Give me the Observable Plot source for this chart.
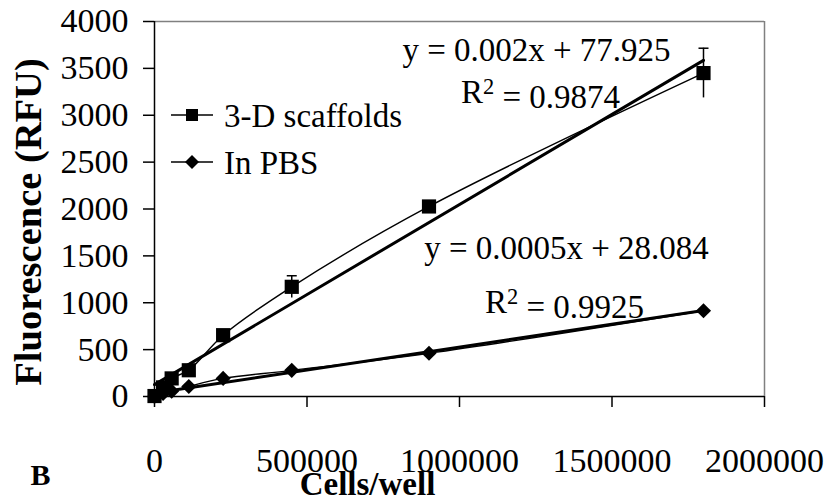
<!DOCTYPE html>
<html>
<head>
<meta charset="utf-8">
<script src="https://cdn.jsdelivr.net/npm/d3@7"></script>
<script src="https://cdn.jsdelivr.net/npm/@observablehq/plot@0.6"></script>
<style>
  html, body { margin: 0; padding: 0; background: white; }
  #chart { width: 825px; height: 502px; }
</style>
</head>
<body>
<div id="chart"></div>
<script>
// ---- data ----
const cells = [0, 28125, 56250, 112500, 225000, 450000, 900000, 1800000];
const scaffolds = [5, 97, 193, 280, 654, 1170, 2027, 3450];
const scaffoldErr = [0, 0, 0, 0, 0, 118, 0, 265];
const pbs = [0, 32, 57, 107, 193, 279, 461, 915];
const seriesNames = ["3-D scaffolds", "In PBS"];
const xTicks = [0, 500000, 1000000, 1500000, 2000000];
const yTicks = [0, 500, 1000, 1500, 2000, 2500, 3000, 3500, 4000];
const eq1 = ["y = 0.002x + 77.925", "R2 = 0.9874"];
const eq2 = ["y = 0.0005x + 28.084", "R2 = 0.9925"];

const scaffoldData = cells.map((x, i) => ({x, y: scaffolds[i], err: scaffoldErr[i]}));
const pbsData = cells.map((x, i) => ({x, y: pbs[i]}));
const errData = scaffoldData.filter(d => d.err > 0);

const capSymbol = { draw(ctx, size) { const w = 5; ctx.moveTo(-w, 0); ctx.lineTo(w, 0); } };

const FONT = "Liberation Serif, Times New Roman, serif";

const chart = Plot.plot({
  width: 825,
  height: 502,
  marginLeft: 154,
  marginRight: 61,
  marginTop: 21,
  marginBottom: 106,
  style: { fontFamily: FONT, fontSize: "33px", color: "black", background: "white" },
  x: { domain: [0, 2000000], label: null },
  y: { domain: [0, 4000], label: null },
  marks: [
    Plot.ruleY([4000], { stroke: "#808080", strokeWidth: 1.5 }),
    Plot.ruleX([2000000], { stroke: "#808080", strokeWidth: 1.5 }),
    Plot.axisX({ ticks: xTicks, tickFormat: d3.format("d"), tickSize: 11, tickPadding: 40, label: null, fontSize: 34, strokeWidth: 1.5 }),
    Plot.axisY({ ticks: yTicks, tickFormat: d3.format("d"), tickSize: 11, tickPadding: 15, label: null, fontSize: 34, strokeWidth: 1.5 }),
    Plot.ruleX([0], { strokeWidth: 1.5 }),
    Plot.ruleY([0], { strokeWidth: 1.5 }),
    // error bars
    Plot.ruleX(errData, { x: "x", y1: d => d.y - d.err, y2: d => d.y + d.err, strokeWidth: 1.5 }),
    Plot.dot(errData, { x: "x", y: d => d.y + d.err, symbol: capSymbol, stroke: "black", strokeWidth: 1.5, fill: "none" }),
    // smooth connecting lines
    Plot.line(scaffoldData, { x: "x", y: "y", curve: "catmull-rom", strokeWidth: 1.4 }),
    Plot.line(pbsData, { x: "x", y: "y", curve: "catmull-rom", strokeWidth: 1.4 }),
    // linear trend lines
    Plot.linearRegressionY(scaffoldData, { x: "x", y: "y", ci: 0, stroke: "black", strokeWidth: 3 }),
    Plot.linearRegressionY(pbsData, { x: "x", y: "y", ci: 0, stroke: "black", strokeWidth: 3 }),
    // markers
    Plot.dot(scaffoldData, { x: "x", y: "y", symbol: "square", r: 8, fill: "black", stroke: "none" }),
    Plot.dot(pbsData, { x: "x", y: "y", symbol: "diamond2", r: 6.8, fill: "black", stroke: "none" }),
    // equations
    Plot.text([eq1[0]], { frameAnchor: "top-left", lineAnchor: "middle", dx: 382, dy: 29, textAnchor: "middle", fontSize: 33 }),
    Plot.text([eq1[1]], { frameAnchor: "top-left", lineAnchor: "middle", dx: 386, dy: 71, textAnchor: "middle", fontSize: 33 }),
    Plot.text([eq2[0]], { frameAnchor: "top-left", lineAnchor: "middle", dx: 412, dy: 227, textAnchor: "middle", fontSize: 33 }),
    Plot.text([eq2[1]], { frameAnchor: "top-left", lineAnchor: "middle", dx: 410, dy: 281, textAnchor: "middle", fontSize: 33 }),
    // axis titles
    Plot.text(["Fluorescence (RFU)"], { frameAnchor: "left", lineAnchor: "middle", dx: -126, dy: 13, rotate: -90, textAnchor: "middle", fontWeight: "bold", fontSize: 38.5 }),
    Plot.text(["Cells/well"], { frameAnchor: "bottom", lineAnchor: "middle", dx: -92, dy: 88, textAnchor: "middle", fontWeight: "bold", fontSize: 33 }),
    Plot.text(["B"], { frameAnchor: "bottom-left", lineAnchor: "middle", dx: -114, dy: 79, textAnchor: "middle", fontWeight: "bold", fontSize: 30 })
  ]
});

const svg = d3.select(chart);

// superscript 2 in the R^2 labels
svg.selectAll("text").filter(function () { return /^R2 = /.test(this.textContent); }).each(function () {
  const t = d3.select(this);
  const rest = this.textContent.slice(2);
  t.text("");
  t.append("tspan").text("R");
  t.append("tspan").attr("dy", "-0.42em").attr("font-size", "0.68em").text("2");
  t.append("tspan").attr("dy", "0.42em").attr("font-size", "1em").text(rest);
});

// legend (inside plot area)
const leg = svg.append("g").attr("font-family", FONT).attr("font-size", 33).attr("text-anchor", "start");
[{name: seriesNames[0], sym: "square", cy: 115}, {name: seriesNames[1], sym: "diamond", cy: 162}].forEach(e => {
  leg.append("line").attr("x1", 171).attr("x2", 213).attr("y1", e.cy).attr("y2", e.cy).attr("stroke", "black").attr("stroke-width", 1.5);
  if (e.sym === "square") {
    leg.append("rect").attr("x", 192 - 6).attr("y", e.cy - 6).attr("width", 12).attr("height", 12).attr("fill", "black");
  } else {
    leg.append("path").attr("d", `M192,${e.cy - 7}L199,${e.cy}L192,${e.cy + 7}L185,${e.cy}Z`).attr("fill", "black");
  }
  leg.append("text").attr("x", 224).attr("y", e.cy).attr("dy", "0.35em").text(e.name);
});

document.getElementById("chart").appendChild(chart);
</script>
</body>
</html>
